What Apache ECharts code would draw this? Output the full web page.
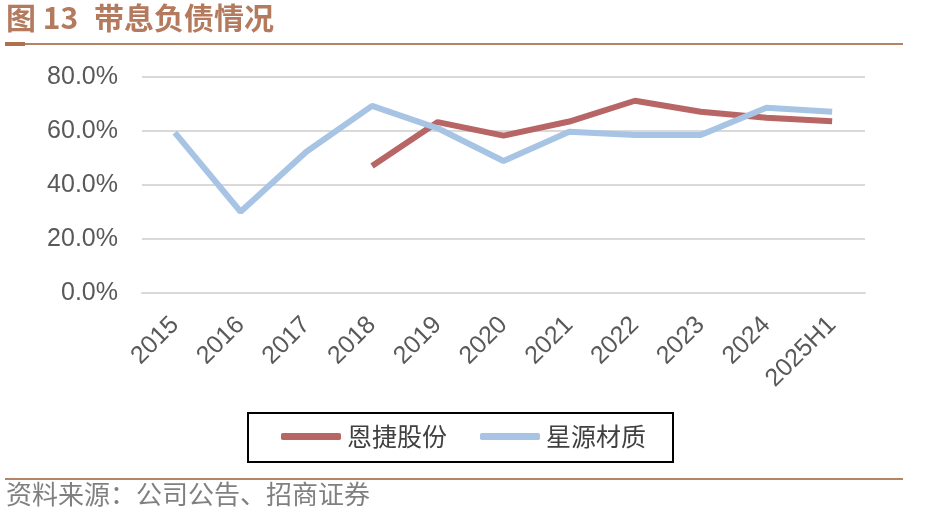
<!DOCTYPE html>
<html><head><meta charset="utf-8">
<script src="https://cdn.jsdelivr.net/npm/echarts@6/dist/echarts.min.js"></script>
<style>html,body{margin:0;padding:0;background:#fff}#c{width:940px;height:513px}</style>
</head><body><div id="c"></div>
<script>
const categories = ['2015','2016','2017','2018','2019','2020','2021','2022','2023','2024','2025H1'];
const enjie = [null,null,null,47.0,63.3,58.3,63.5,71.2,67.1,64.9,63.6];
const xingyuan = [59.4,30.1,52.3,69.3,61.0,48.9,59.7,58.5,58.5,68.6,67.1];
const yTicks = {min:0, max:80, interval:20};
const seriesNames = ['恩捷股份','星源材质'];
const titleNo = '图 13';
const titleText = '带息负债情况';
const sourceText = '资料来源：公司公告、招商证券';

const chart = echarts.init(document.getElementById('c'));
const lbl = {fontFamily:'Liberation Sans, Arial, sans-serif', fontSize:25, color:'#595959'};
chart.setOption({
  animation:false,
  backgroundColor:'#fff',
  grid:{left:142, right:75, top:77, bottom:220},
  xAxis:{type:'category', data:categories, boundaryGap:true,
    axisLine:{show:true, lineStyle:{color:'#d9d9d9', width:2}},
    axisTick:{show:false},
    axisLabel:Object.assign({rotate:45, margin:28, interval:0}, lbl)},
  yAxis:{type:'value', min:yTicks.min, max:yTicks.max, interval:yTicks.interval,
    axisLine:{show:false}, axisTick:{show:false},
    splitLine:{lineStyle:{color:'#d9d9d9', width:2}},
    axisLabel:Object.assign({margin:24, formatter:v=>v.toFixed(1)+'%'}, lbl)},
  legend:{left:281, top:424, padding:0, itemWidth:60, itemHeight:7, itemGap:33, icon:'roundRect',
    textStyle:{fontFamily:'Noto Sans CJK SC', fontSize:25, color:'#404040', padding:[0,0,0,1]},
    data:seriesNames},
  series:[
    {name:seriesNames[0], type:'line', data:enjie, symbol:'none', connectNulls:false,
     lineStyle:{color:'#B86566', width:6}, itemStyle:{color:'#B86566'}},
    {name:seriesNames[1], type:'line', data:xingyuan, symbol:'none',
     lineStyle:{color:'#A7C4E4', width:6}, itemStyle:{color:'#A7C4E4'}}
  ],
  graphic:[
    {type:'text', left:6, top:3, style:{text:titleNo, fontFamily:'Noto Sans CJK SC', fontWeight:'bold', fontSize:30, fill:'#B47A5E'}},
    {type:'text', left:94, top:3, style:{text:titleText, fontFamily:'Noto Sans CJK SC', fontWeight:'bold', fontSize:30, fill:'#B47A5E'}},
    {type:'rect', shape:{x:5, y:43, width:898, height:2}, style:{fill:'#B48466'}},
    {type:'rect', shape:{x:5, y:42, width:20, height:4}, style:{fill:'#B07050'}},
    {type:'rect', shape:{x:248, y:413, width:425, height:49}, style:{fill:'none', stroke:'#000', lineWidth:2}},
    {type:'rect', shape:{x:5, y:478, width:898, height:2}, style:{fill:'#B48466'}},
    {type:'text', left:6, top:481, style:{text:sourceText, fontFamily:'Noto Sans CJK SC', fontSize:26, fill:'#808080'}}
  ]
});
</script></body></html>
